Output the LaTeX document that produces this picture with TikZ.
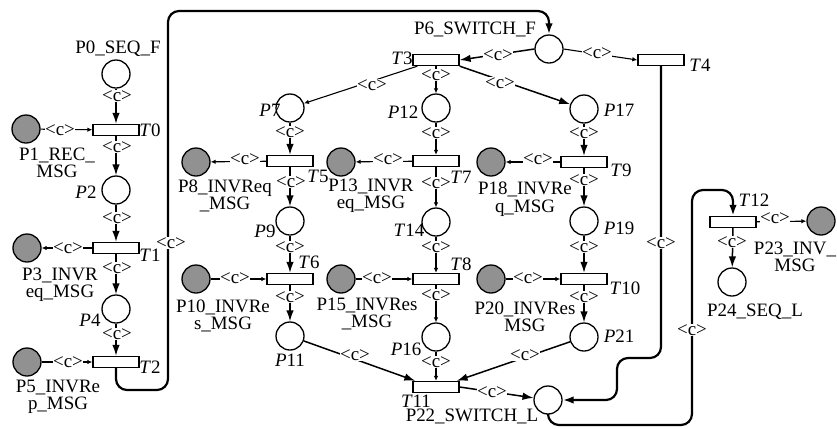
\documentclass[tikz,border=0pt]{standalone}
\usepackage{fontspec}
\setmainfont{Liberation Serif}
\usetikzlibrary{arrows.meta}
\definecolor{placegray}{RGB}{145,145,145}
\begin{document}
\begin{tikzpicture}[x=1bp, y=-1bp,
  font=\fontsize{19}{17.5}\selectfont,
  place/.style={circle, draw, line width=1.3bp, minimum size=28bp, inner sep=0pt, fill=white},
  gplace/.style={place, fill=placegray},
  trans/.style={rectangle, draw, line width=1.3bp, minimum width=46bp, minimum height=11bp, inner sep=0pt, fill=white},
  arc/.style={line width=1.1bp, -{Latex[length=5bp,width=4.5bp]}},
  barc/.style={line width=1.5bp, -{Latex[length=11bp,width=7.5bp]}},
  hv/.style={line width=2.2bp, rounded corners=11bp, -{Latex[length=11bp,width=7.5bp]}},
  lab/.style={fill=white, inner sep=0.6bp},
  txt/.style={inner sep=0pt, align=center},
  itl/.style={inner sep=0pt}
]
\useasboundingbox (0,0) rectangle (837,428);

% ---------- places ----------
\node[place]  (P0)  at (116,74)  {};
\node[gplace] (P1)  at (26,129)  {};
\node[place]  (P2)  at (116,190) {};
\node[gplace] (P3)  at (27,248)  {};
\node[place]  (P4)  at (116,309) {};
\node[gplace] (P5)  at (27,362)  {};
\node[place]  (P6)  at (549,49)  {};
\node[place]  (P7)  at (290,108) {};
\node[gplace] (P8)  at (196,162) {};
\node[place]  (P9)  at (290,221) {};
\node[gplace] (P10) at (196,279) {};
\node[place]  (P11) at (290,336) {};
\node[place]  (P12) at (436,108) {};
\node[gplace] (P13) at (341,162) {};
\node[place]  (Q14) at (436,222) {};
\node[gplace] (P15) at (341,279) {};
\node[place]  (P16) at (436,337) {};
\node[place]  (P17) at (584,109) {};
\node[gplace] (P18) at (491,162) {};
\node[place]  (P19) at (584,221) {};
\node[gplace] (P20) at (491,279) {};
\node[place]  (P21) at (584,337) {};
\node[place]  (P22) at (548,400) {};
\node[gplace] (P23) at (821,221) {};
\node[place]  (P24) at (732,282) {};

% ---------- transitions ----------
\node[trans] (T0)  at (116,130) {};
\node[trans] (T1)  at (116,248) {};
\node[trans] (T2)  at (116,362) {};
\node[trans] (T3)  at (436,60)  {};
\node[trans] (T4)  at (661,60)  {};
\node[trans] (T5)  at (290,161) {};
\node[trans] (T6)  at (290,279) {};
\node[trans] (T7)  at (436,161) {};
\node[trans] (T8)  at (436,279) {};
\node[trans] (T9)  at (584,162) {};
\node[trans] (T10) at (584,279) {};
\node[trans] (T11) at (436,387) {};
\node[trans] (T12) at (733,222) {};

% ---------- arcs ----------
\draw[barc] (P0) -- (T0);
\draw[arc]  (P1) -- (T0);
\draw[barc] (T0) -- (P2);
\draw[barc] (P2) -- (T1);
\draw[arc]  (T1) -- (P3);
\draw[barc] (T1) -- (P4);
\draw[barc] (P4) -- (T2);
\draw[arc]  (P5) -- (T2);
\draw[hv] (T2.south) -- (116,390) -- (168,390) -- (168,11) -- (549,11) -- (P6.north);

\draw[barc] (P6.west) -- (T3.east);
\draw[arc]  (P6.east) -- (T4.west);
\draw[arc]  ([xshift=5bp]T3.south west) -- (P7);
\draw[arc]  (T3) -- (P12);
\draw[barc] (T3.south east) -- (P17);

\draw[barc] (P7) -- (T5);
\draw[arc]  (T5) -- (P8);
\draw[barc] (T5) -- (P9);
\draw[barc] (P9) -- (T6);
\draw[arc]  (P10) -- (T6);
\draw[barc] (T6) -- (P11);
\draw[barc] (P11) -- ([xshift=3bp]T11.north west);

\draw[arc] (P12) -- (T7);
\draw[arc] (T7) -- (P13);
\draw[arc] (T7) -- (Q14);
\draw[arc] (Q14) -- (T8);
\draw[arc] (P15) -- (T8);
\draw[arc] (T8) -- (P16);
\draw[arc] (P16) -- (T11);

\draw[barc] (P17) -- (T9);
\draw[arc]  (T9) -- (P18);
\draw[barc] (T9) -- (P19);
\draw[barc] (P19) -- (T10);
\draw[arc]  (P20) -- (T10);
\draw[barc] (T10) -- (P21);
\draw[barc] (P21) -- ([xshift=-3bp]T11.north east);
\draw[barc] (T11.east) -- (P22);

\draw[hv] (T4.south) -- (661,358) -- (617,358) -- (617,400) -- (P22.east);
\draw[hv] (P22.south) -- (548,425) -- (692,425) -- (692,190) -- (733,190) -- (T12.north);
\draw[barc] (T12) -- (P24);
\draw[arc]  (T12) -- (P23);

% ---------- arc inscriptions ----------
\foreach \x/\y [count=\i] in {117/96, 60/130, 117/147, 117/218, 68/248, 117/268, 117/334, 68/362, 171/243,
  498/55, 597/53, 372/85, 436/75, 500/83,
  290/132, 245/159, 291/182, 290/247, 235/278, 290/297, 355/355,
  436/133, 388/159, 436/183, 436/247, 377/278, 436/295, 436/362,
  584/133, 538/159, 584/180, 584/247, 528/278, 584/297, 525/355, 492/392,
  661/243, 692/330, 775/218, 732/242}
  \node[lab] (c\i) at (\x,\y) {<c>};

% ---------- place names ----------
\node[txt] (n0)  at (118,49)  {P0\_SEQ\_F};
\node[txt] (n1)  at (57,163)  {P1\_REC\_\\MSG};
\node[itl] (n2)  at (86,192)  {\textit{P}2};
\node[txt] (n3)  at (60,285)  {P3\_INVR\\eq\_MSG};
\node[itl] (n4)  at (90,320)  {\textit{P}4};
\node[txt] (n5)  at (58,397)  {P5\_INVRe\\p\_MSG};
\node[txt] (n6)  at (475,29)  {P6\_SWITCH\_F};
\node[itl] (n7)  at (270,110) {\textit{P}7};
\node[txt] (n8)  at (225,196) {P8\_INVReq\\\_MSG};
\node[itl] (n9)  at (265,231) {\textit{P}9};
\node[txt] (n10) at (223,316) {P10\_INVRe\\s\_MSG};
\node[itl] (n11) at (290,360) {\textit{P}11};
\node[itl] (n12) at (403,112) {\textit{P}12};
\node[txt] (n13) at (371,196) {P13\_INVR\\eq\_MSG};
\node[itl] (n14) at (409,230) {\textit{T}14};
\node[txt] (n15) at (367,314) {P15\_INVRes\\\_MSG};
\node[itl] (n16) at (406,349) {\textit{P}16};
\node[itl] (n17) at (619,110) {\textit{P}17};
\node[txt] (n18) at (525,199) {P18\_INVRe\\q\_MSG};
\node[itl] (n19) at (619,228) {\textit{P}19};
\node[txt] (n20) at (525,317) {P20\_INVRes\\MSG};
\node[itl] (n21) at (619,336) {\textit{P}21};
\node[txt] (n22) at (472,416) {P22\_SWITCH\_L};
\node[txt] (n23) at (795,257) {P23\_INV\_\\MSG};
\node[txt] (n24) at (755,312) {P24\_SEQ\_L};

% ---------- transition names ----------
\node[itl] (m0)  at (150,130) {\textit{T}0};
\node[itl] (m1)  at (150,255) {\textit{T}1};
\node[itl] (m2)  at (150,367) {\textit{T}2};
\node[itl] (m3)  at (402,58)  {\textit{T}3};
\node[itl] (m4)  at (700,65)  {\textit{T}4};
\node[itl] (m5)  at (318,176) {\textit{T}5};
\node[itl] (m6)  at (309,262) {\textit{T}6};
\node[itl] (m7)  at (461,177) {\textit{T}7};
\node[itl] (m8)  at (461,264) {\textit{T}8};
\node[itl] (m9)  at (621,170) {\textit{T}9};
\node[itl] (m10) at (625,288) {\textit{T}10};
\node[itl] (m11) at (416,401) {\textit{T}11};
\node[itl] (m12) at (754,200) {\textit{T}12};
\end{tikzpicture}
\end{document}
